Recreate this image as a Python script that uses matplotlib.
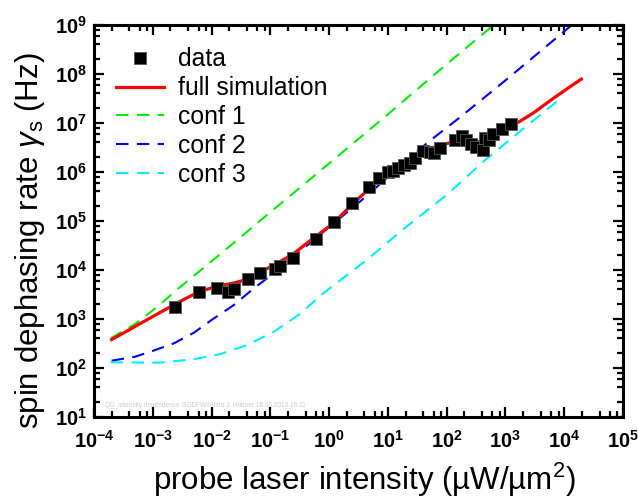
import numpy as np
import matplotlib
matplotlib.use("Agg")
import matplotlib.pyplot as plt
from matplotlib.ticker import LogLocator, NullFormatter, FixedLocator

plt.rcParams['font.family'] = ['Liberation Sans', 'DejaVu Sans']
plt.rcParams['mathtext.fontset'] = 'custom'
plt.rcParams['mathtext.rm'] = 'Liberation Sans'
plt.rcParams['mathtext.it'] = 'Liberation Sans:italic'
plt.rcParams['mathtext.bf'] = 'Liberation Sans:bold'

# measured data
data_x = [0.0024, 0.0061, 0.0122, 0.0188, 0.0243, 0.041, 0.068, 0.12, 0.146, 0.245,
          0.604, 1.19, 2.44, 4.8, 7.1, 9.9, 12.0, 15.0, 18.9, 23.7, 29.0, 39.8,
          51.7, 61.0, 76.5, 138, 184, 217, 258, 314, 418, 446, 529, 618, 891, 1236]
data_y = [1.73e3, 3.5e3, 4.35e3, 3.56e3, 4.04e3, 6.46e3, 8.8e3, 1.05e4, 1.19e4, 1.74e4,
          4.23e4, 9.4e4, 2.3e5, 5.0e5, 7.65e5, 9.9e5, 1.05e6, 1.22e6, 1.37e6, 1.5e6,
          1.93e6, 2.69e6, 2.6e6, 2.4e6, 3.04e6, 4.5e6, 5.4e6, 4.5e6, 3.67e6, 3.28e6,
          2.8e6, 5.0e6, 4.6e6, 5.9e6, 7.55e6, 9.5e6]

# full simulation (log10 values)
sim_lx = [-3.7, -3.4, -3.15, -2.85, -2.58, -2.21, -1.9, -1.6, -1.39, -1.18, -0.94, -0.61,
          -0.3, 0.07, 0.41, 0.69, 0.864, 1.09, 1.317, 1.544, 1.657, 1.884, 2.11, 2.3,
          2.45, 2.68, 2.87, 3.13, 3.47, 3.777, 4.05, 4.29]
sim_ly = [2.58, 2.78, 2.95, 3.15, 3.33, 3.56, 3.67, 3.74, 3.81, 3.95, 4.10, 4.327,
          4.62, 4.953, 5.361, 5.667, 5.85, 6.03, 6.21, 6.38, 6.45, 6.55, 6.61, 6.61,
          6.59, 6.66, 6.77, 6.95, 7.2, 7.47, 7.7, 7.895]

# conf 1
c1_lx = [-3.716, -3.3, -2.9, -2.583, -2.2, -1.733, -1.1, -0.44, 0.92, 2.0, 2.65, 3.0]
c1_ly = [2.606, 2.90, 3.27, 3.605, 3.98, 4.443, 5.08, 5.735, 7.096, 8.2, 8.851, 9.2]

# conf 2
c2_lx = [-3.7, -3.3, -3.0, -2.64, -2.3, -2.0, -1.62, -1.28, -0.94, -0.33, 0.5, 1.66,
         2.22, 3.0, 4.0, 4.2]
c2_ly = [2.149, 2.23, 2.35, 2.504, 2.72, 2.98, 3.286, 3.627, 3.933, 4.545, 5.37, 6.586,
         7.11, 7.87, 8.87, 9.07]

# conf 3
c3_lx = [-3.716, -3.3, -2.866, -2.3, -1.845, -1.393, -0.939, -0.5, -0.1, 0.638, 1.26,
         1.998, 2.621, 3.3, 3.976]
c3_ly = [2.116, 2.112, 2.11, 2.18, 2.286, 2.469, 2.741, 3.1, 3.524, 4.204, 4.83,
         5.53, 6.21, 6.88, 7.537]

xticks_exp = [-4, -3, -2, -1, 0, 1, 2, 3, 4, 5]
yticks_exp = [1, 2, 3, 4, 5, 6, 7, 8, 9]

def p10(a):
    return 10.0 ** np.asarray(a)

fig = plt.figure(figsize=(6.38, 5.01), dpi=100)
ax = fig.add_axes([94/638, 1-417/501, (623-94)/638, (417-25)/501])
ax.set_xscale('log')
ax.set_yscale('log')

dash = (0, (6, 4))
ax.plot(p10(c1_lx), p10(c1_ly), color='#00ee00', lw=1.5, ls=dash, label='conf 1', zorder=2)
ax.plot(p10(c2_lx), p10(c2_ly), color='#0000ff', lw=1.5, ls=dash, label='conf 2', zorder=2)
ax.plot(p10(c3_lx), p10(c3_ly), color='#00eeff', lw=1.5, ls=dash, label='conf 3', zorder=2)
ax.plot(p10(sim_lx), p10(sim_ly), color='#ff0000', lw=2.3, label='full simulation', zorder=3)
ax.plot(data_x, data_y, ls='none', marker='s', ms=8, color='black',
        mec='#555555', mew=0.6, label='data', zorder=4)

ax.set_xlim(1e-4, 1e5)
ax.set_ylim(1e1, 1e9)

ax.xaxis.set_major_locator(FixedLocator(p10(xticks_exp)))
ax.yaxis.set_major_locator(FixedLocator(p10(yticks_exp)))
ax.set_xticklabels([r'$\mathbf{10^{%d}}$' % e for e in xticks_exp])
ax.set_yticklabels([r'$\mathbf{10^{%d}}$' % e for e in yticks_exp])
ax.xaxis.set_minor_locator(LogLocator(base=10, subs=(2, 4, 6, 8), numticks=20))
ax.yaxis.set_minor_locator(LogLocator(base=10, subs=(2, 4, 6, 8), numticks=20))
ax.xaxis.set_minor_formatter(NullFormatter())
ax.yaxis.set_minor_formatter(NullFormatter())

ax.tick_params(which='both', direction='in', top=True, right=True, width=1.6)
ax.tick_params(which='major', length=7, labelsize=14.5)
ax.tick_params(axis='x', which='major', pad=9)
ax.tick_params(axis='y', which='major', pad=5)
ax.tick_params(which='minor', length=4)
for s in ax.spines.values():
    s.set_linewidth(2.2)

ax.set_xlabel(r'probe laser intensity (µW/µm$^2$)', fontsize=22.5)
ax.set_ylabel(r'spin dephasing rate $\gamma_\mathrm{s}$ (Hz)', fontsize=22.5)
ax.xaxis.set_label_coords(0.512, -0.112)
ax.yaxis.set_label_coords(-0.088, 0.45)

handles, labels = ax.get_legend_handles_labels()
order = [4, 3, 0, 1, 2]
ax.legend([handles[i] for i in order], [labels[i] for i in order],
          loc='upper left', bbox_to_anchor=(0.0, 1.0), frameon=False,
          fontsize=17.8, numpoints=1, handlelength=1.95, labelspacing=0.2,
          handletextpad=0.55)

ax.text(0.02, 0.02, 'QD_intensity dependence GODFWII/data J. Hübner 18.09.2013 16:11',
        transform=ax.transAxes, fontsize=4.7, color='#cccccc', ha='left', va='bottom')

fig.savefig('out.png', dpi=100)
